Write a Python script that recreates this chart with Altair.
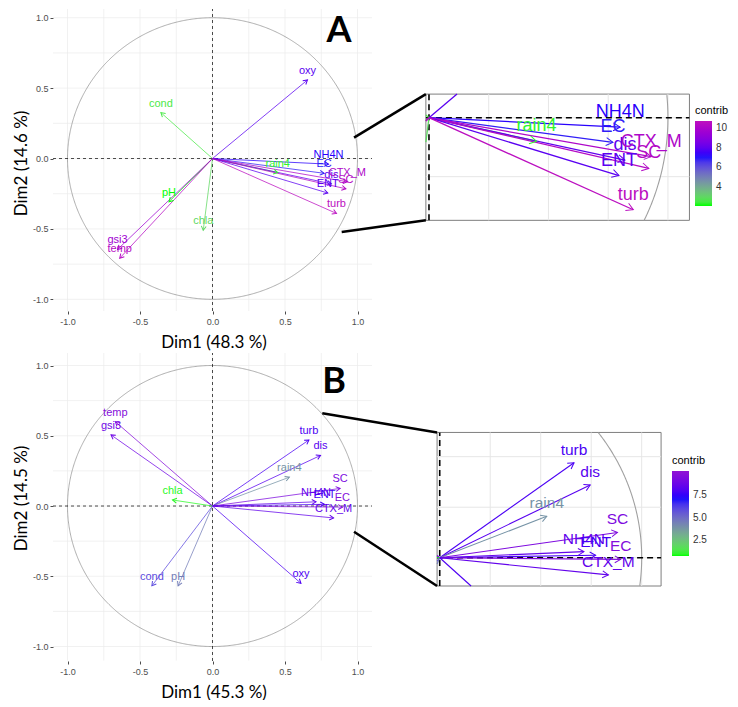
import math
import altair as alt
import pandas as pd

# ---------------- data ----------------
# Panel A : variable coordinates on Dim1 / Dim2 and contributions
vars_a = ["oxy", "cond", "pH", "chla", "gsi3", "temp", "rain4", "NH4N", "EC", "dis", "CTX_M", "SC", "ENT", "turb"]
dim1_a = [0.655, -0.356, -0.30, -0.064, -0.655, -0.64, 0.45, 0.80, 0.77, 0.82, 0.93, 0.92, 0.795, 0.855]
dim2_a = [0.558, 0.326, -0.307, -0.51, -0.646, -0.708, -0.10, -0.04, -0.105, -0.18, -0.165, -0.215, -0.245, -0.39]
contrib_a = [7.9, 2.6, 2.1, 3.0, 9.6, 10.4, 2.3, 7.3, 6.9, 8.0, 10.1, 10.3, 7.9, 10.6]

# Panel B
vars_b = ["temp", "gsi3", "turb", "dis", "rain4", "SC", "NH4N", "ENT", "EC", "CTX_M", "chla", "cond", "pH", "oxy"]
dim1_b = [-0.67, -0.70, 0.665, 0.745, 0.53, 0.88, 0.714, 0.772, 0.896, 0.835, -0.276, -0.418, -0.237, 0.61]
dim2_b = [0.60, 0.506, 0.47, 0.36, 0.205, 0.125, 0.03, 0.012, -0.008, -0.085, 0.043, -0.568, -0.568, -0.55]
contrib_b = [9.7, 8.9, 7.9, 8.2, 3.9, 9.4, 8.5, 7.8, 9.6, 8.5, 0.95, 5.9, 4.5, 8.0]

titles_a = ["Dim1 (48.3 %)", "Dim2 (14.6 %)"]
titles_b = ["Dim1 (45.3 %)", "Dim2 (14.5 %)"]
axis_ticks = [-1.0, -0.5, 0.0, 0.5, 1.0]
grid_steps = [-1.0, -0.75, -0.5, -0.25, 0.0, 0.25, 0.5, 0.75, 1.0]
inset_grid = [-0.25, 0.0, 0.25, 0.5, 0.75, 1.0]
legend_vals_a = [4, 6, 8, 10]
legend_vals_b = [2.5, 5.0, 7.5]
contrib_mid = 100 / 14.0

# ---------------- layout constants ----------------
PXX = 145.0
XMIN = -1.1
W = 637
XMAX = XMIN + W / PXX
FONT = "Liberation Sans"
TFONT = "Lato"

ROW_A = dict(pxy=140.8, ylo=-1.083, yhi=1.062, height=302,
             inset=dict(ox=1.493, oy=0.290, kx=1.648, ky=1.676, xl=(-0.013, 1.09), yl=(-0.435, 0.10)),
             font=18, dy=-15, head=190, lw=1.3,
             conn=[(0.976, 0.148), (0.891, -0.522)], letter="A", letter_xy=(0.872, 0.906),
             title_y=154, legx=642, legy=96,
             cdom=[2.1, contrib_mid, 10.7], crange=["#00FF00", "#0000FF", "#BE10BE"],
             lvals=legend_vals_a, lfmt="d", titles=titles_a)
ROW_B = dict(pxy=140.5, ylo=-1.103, yhi=1.089, height=308,
             inset=dict(ox=1.567, oy=-0.368, kx=1.393, ky=1.438, xl=(-0.013, 1.096), yl=(-0.14, 0.62)),
             font=15.5, dy=-13, head=140, lw=1.1,
             conn=[(0.757, 0.66), (0.976, -0.183)], letter="B", letter_xy=(0.838, 0.883),
             title_y=145, legx=619, legy=102,
             cdom=[0.77, contrib_mid, 10.15], crange=["#00FF00", "#0000FF", "#9012D4"],
             lvals=legend_vals_b, lfmt=".1f", titles=titles_b)

ARROW = "M-1,-0.58L0,0L-1,0.58"
NEG = "(datum.value < 0 ? '-' : '') + format(abs(datum.value), '.1f')"


def clip_t(x, y, xl, yl):
    t = 1.0
    if x > 0:
        t = min(t, xl[1] / x)
    elif x < 0:
        t = min(t, xl[0] / x)
    if y > 0:
        t = min(t, yl[1] / y)
    elif y < 0:
        t = min(t, yl[0] / y)
    return max(t, 0.0)


def build_row(names, d1, d2, contrib, P):
    pxy = P["pxy"]
    ins = P["inset"]
    ox, oy, kx, ky = ins["ox"], ins["oy"], ins["kx"], ins["ky"]
    xl, yl = ins["xl"], ins["yl"]
    ydom = [P["ylo"], P["yhi"]]

    xaxis = alt.Axis(values=axis_ticks, labelExpr=NEG, labelFontSize=9, labelColor="#4D4D4D", labelFont=FONT,
                     tickSize=3, tickColor="#4D4D4D", domain=False, grid=False, labelPadding=3,
                     title=P["titles"][0], titleFont=TFONT, titleFontSize=17, titleFontWeight="normal",
                     titleColor="black", titleX=213.5 - 53, titleY=23, titleAlign="center", titleBaseline="top")
    yaxis = alt.Axis(values=axis_ticks, labelExpr=NEG, labelFontSize=9, labelColor="#4D4D4D", labelFont=FONT,
                     tickSize=3, tickColor="#4D4D4D", domain=False, grid=False, labelPadding=2,
                     title=P["titles"][1], titleFont=TFONT, titleFontSize=17, titleFontWeight="normal",
                     titleColor="black", titleX=-32, titleY=P["title_y"], titleAlign="center",
                     titleBaseline="middle", titleAngle=270)

    def X(f):
        return alt.X(f, type="quantitative", scale=alt.Scale(domain=[XMIN, XMAX], nice=False, zero=False),
                     axis=xaxis)

    def Y(f):
        return alt.Y(f, type="quantitative", scale=alt.Scale(domain=ydom, nice=False, zero=False), axis=yaxis)

    leg = alt.Legend(title="contrib", type="gradient", orient="none", legendX=P["legx"], legendY=P["legy"],
                     direction="vertical", gradientLength=85, gradientThickness=17,
                     values=P["lvals"], format=P["lfmt"], titleFontSize=11, titleFontWeight="normal",
                     titleColor="black", titleFont=FONT, labelFont=FONT, labelFontSize=10,
                     labelColor="#333333", titlePadding=5, labelOffset=4, gradientStrokeWidth=0)

    # stroke scale carries the legend; the (text) fill scale is the same palette,
    # with a domain end nudged by a negligible amount so the two legends are not merged
    sdom = list(P["cdom"])
    fdom = [sdom[0], sdom[1], sdom[2] + 1e-6]

    def S():
        return alt.Stroke("contrib:Q", scale=alt.Scale(domain=sdom, range=P["crange"], interpolate="lab"),
                          legend=leg)

    def F():
        return alt.Fill("contrib:Q", scale=alt.Scale(domain=fdom, range=P["crange"], interpolate="lab"),
                        legend=None)

    # main panel grid
    g = []
    for v in grid_steps:
        g.append(dict(x=v, x2=v, y=max(ydom[0], -1.1), y2=min(ydom[1], 1.1)))
        g.append(dict(x=-1.1, x2=1.1, y=v, y2=v))
    grid = alt.Chart(pd.DataFrame(g)).mark_rule(color="#EBEBEB", strokeWidth=0.7).encode(
        x=X("x"), x2="x2:Q", y=Y("y"), y2="y2:Q")

    # inset box
    box = pd.DataFrame([dict(x=ox + kx * xl[0], x2=ox + kx * xl[1], y=oy + ky * yl[0], y2=oy + ky * yl[1])])
    boxl = alt.Chart(box).mark_rect(fill="white", stroke="#7F7F7F", strokeWidth=1).encode(
        x=X("x"), x2="x2:Q", y=Y("y"), y2="y2:Q")

    ig = []
    for v in inset_grid:
        if xl[0] < v < xl[1]:
            ig.append(dict(x=ox + kx * v, x2=ox + kx * v, y=oy + ky * yl[0], y2=oy + ky * yl[1]))
        if yl[0] < v < yl[1]:
            ig.append(dict(x=ox + kx * xl[0], x2=ox + kx * xl[1], y=oy + ky * v, y2=oy + ky * v))
    igrid = alt.Chart(pd.DataFrame(ig)).mark_rule(color="#E6E6E6", strokeWidth=1).encode(
        x=X("x"), x2="x2:Q", y=Y("y"), y2="y2:Q")

    # correlation circle (main) and its arc in the inset
    circ = []
    arc = []
    for i in range(721):
        a = 2 * math.pi * i / 720
        circ.append(dict(x=math.cos(a), y=math.sin(a), i=i))
    for i in range(-360, 361):
        a = 2 * math.pi * i / 1440
        cx, cy = math.cos(a), math.sin(a)
        if xl[0] <= cx <= xl[1] and yl[0] <= cy <= yl[1]:
            arc.append(dict(x=ox + kx * cx, y=oy + ky * cy, i=i))
    circle = alt.Chart(pd.DataFrame(circ)).mark_line(color="#8C8C8C", strokeWidth=0.7).encode(
        x=X("x"), y=Y("y"), order="i:Q")
    arcl = alt.Chart(pd.DataFrame(arc)).mark_line(color="#A0A0A0", strokeWidth=1.1).encode(
        x=X("x"), y=Y("y"), order="i:Q")

    # dashed zero lines
    dz = pd.DataFrame([dict(x=0, x2=0, y=ydom[0], y2=ydom[1]), dict(x=-1.1, x2=1.1, y=0, y2=0)])
    dashed = alt.Chart(dz).mark_rule(color="black", strokeWidth=0.7, strokeDash=[3, 3]).encode(
        x=X("x"), x2="x2:Q", y=Y("y"), y2="y2:Q")
    idz = pd.DataFrame([dict(x=ox, x2=ox, y=oy + ky * yl[0], y2=oy + ky * yl[1]),
                        dict(x=ox + kx * xl[0], x2=ox + kx * xl[1], y=oy, y2=oy)])
    idashed = alt.Chart(idz).mark_rule(color="black", strokeWidth=1.6, strokeDash=[6, 4]).encode(
        x=X("x"), x2="x2:Q", y=Y("y"), y2="y2:Q")

    # arrows
    main_rows, ins_rows, heads, labs_main, labs_ins = [], [], [], [], []
    for n, a, b, c in zip(names, d1, d2, contrib):
        ang = math.degrees(math.atan2(-b * pxy, a * PXX)) % 360
        main_rows.append(dict(x=0.0, y=0.0, x2=a, y2=b, contrib=c))
        heads.append(dict(x=a, y=b, ang=ang, sz=70, contrib=c))
        labs_main.append(dict(x=a, y=b, name=n, contrib=c))
        t = clip_t(a, b, xl, yl)
        ins_rows.append(dict(x=ox, y=oy, x2=ox + kx * a * t, y2=oy + ky * b * t, contrib=c))
        if t >= 1.0:
            heads.append(dict(x=ox + kx * a, y=oy + ky * b, ang=ang, sz=P["head"], contrib=c))
            labs_ins.append(dict(x=ox + kx * a, y=oy + ky * b, name=n, contrib=c))

    arr_main = alt.Chart(pd.DataFrame(main_rows)).mark_rule(strokeWidth=0.75).encode(
        x=X("x"), x2="x2:Q", y=Y("y"), y2="y2:Q", stroke=S())
    arr_ins = alt.Chart(pd.DataFrame(ins_rows)).mark_rule(strokeWidth=P["lw"]).encode(
        x=X("x"), x2="x2:Q", y=Y("y"), y2="y2:Q", stroke=S())
    head_l = alt.Chart(pd.DataFrame(heads)).mark_point(shape=ARROW, filled=False, strokeWidth=1, opacity=1).encode(
        x=X("x"), y=Y("y"), angle=alt.Angle("ang:Q", scale=None), size=alt.Size("sz:Q", scale=None), stroke=S())
    lab_m = alt.Chart(pd.DataFrame(labs_main)).mark_text(font=FONT, fontSize=11, dy=-9, baseline="middle",
                                                         align="center").encode(
        x=X("x"), y=Y("y"), text="name:N", fill=F())
    lab_i = alt.Chart(pd.DataFrame(labs_ins)).mark_text(font=FONT, fontSize=P["font"], dy=P["dy"],
                                                        baseline="middle", align="center").encode(
        x=X("x"), y=Y("y"), text="name:N", fill=F())

    # connector lines from the circle to the inset box corners
    corners = [(ox + kx * xl[0], oy + ky * yl[1]), (ox + kx * xl[0], oy + ky * yl[0])]
    cn = pd.DataFrame([dict(x=s[0], y=s[1], x2=e[0], y2=e[1]) for s, e in zip(P["conn"], corners)])
    conn = alt.Chart(cn).mark_rule(color="black", strokeWidth=2.5).encode(
        x=X("x"), x2="x2:Q", y=Y("y"), y2="y2:Q")

    lt = pd.DataFrame([dict(x=P["letter_xy"][0], y=P["letter_xy"][1], t=P["letter"])])
    letter = alt.Chart(lt).mark_text(font=TFONT, fontSize=36, fontWeight="bold", color="black",
                                     baseline="middle", align="center").encode(
        x=X("x"), y=Y("y"), text="t:N")

    return alt.layer(grid, boxl, igrid, circle, arcl, dashed, idashed, arr_main, arr_ins, head_l,
                     lab_m, lab_i, conn, letter).properties(width=W, height=P["height"])


row_a = build_row(vars_a, dim1_a, dim2_a, contrib_a, ROW_A)
row_b = build_row(vars_b, dim1_b, dim2_b, contrib_b, ROW_B)

chart = alt.vconcat(row_a, row_b, spacing=2).resolve_scale(
    stroke="independent", fill="independent").resolve_legend(stroke="independent", fill="independent").properties(
    padding={"left": 4, "top": 0, "right": 0, "bottom": 0}).configure_view(strokeWidth=0)

chart.save("out.html", embed_options={"renderer": "svg", "actions": False})
